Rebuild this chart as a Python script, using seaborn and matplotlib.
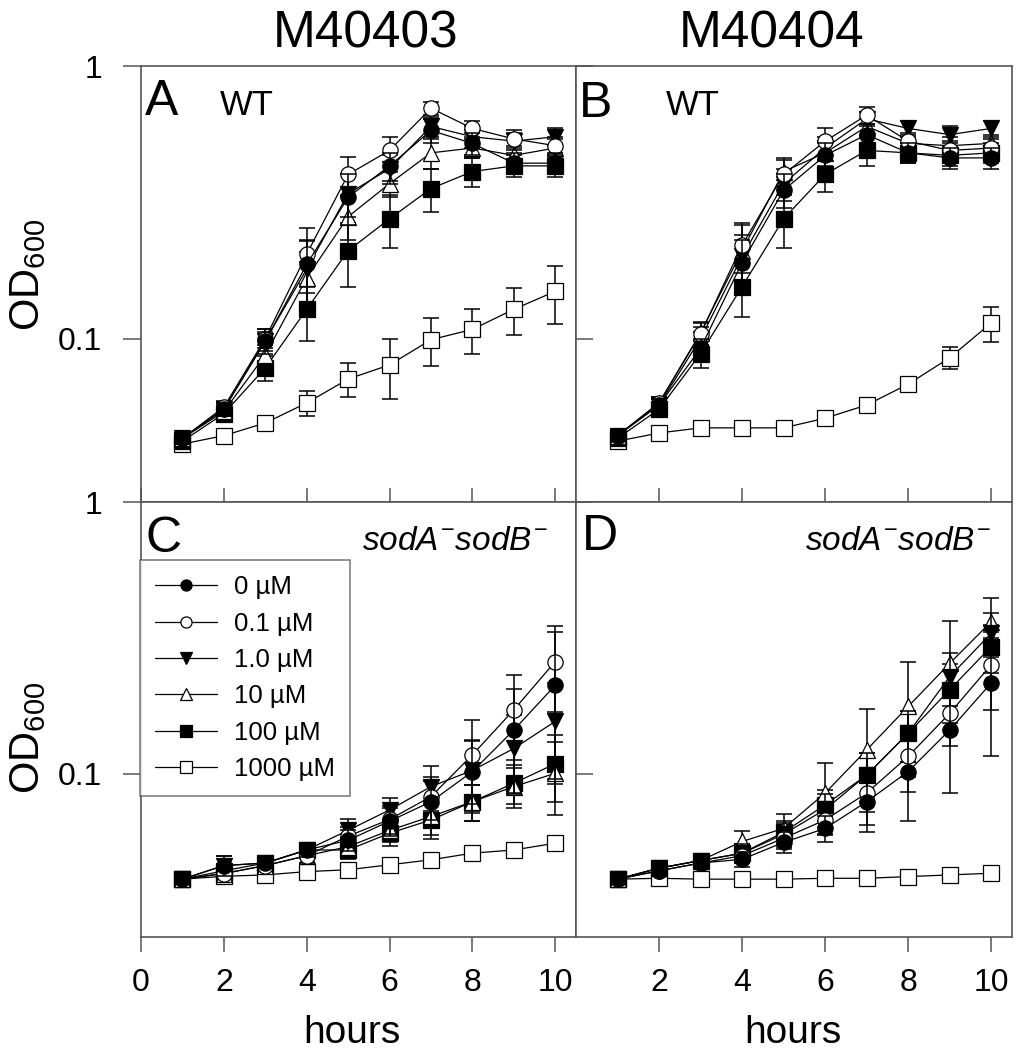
import matplotlib
matplotlib.use("Agg")
import matplotlib.pyplot as plt
import seaborn as sns
import numpy as np
from matplotlib.lines import Line2D
from matplotlib.ticker import FixedLocator, FixedFormatter, NullLocator

# ---------------- data ----------------
hours = [1, 2, 3, 4, 5, 6, 7, 8, 9, 10]
conc_labels = ["0 µM", "0.1 µM", "1.0 µM", "10 µM", "100 µM", "1000 µM"]

# Panel A: M40403 WT
A_0    = [0.043, 0.055, 0.098, 0.187, 0.33, 0.43, 0.58, 0.52, 0.44, 0.44]
A_01   = [0.043, 0.056, 0.100, 0.204, 0.40, 0.49, 0.70, 0.59, 0.54, 0.51]
A_1    = [0.043, 0.055, 0.098, 0.180, 0.34, 0.42, 0.60, 0.55, 0.53, 0.55]
A_10   = [0.043, 0.054, 0.087, 0.167, 0.28, 0.37, 0.48, 0.50, 0.47, 0.50]
A_100  = [0.042, 0.053, 0.078, 0.128, 0.21, 0.275, 0.355, 0.41, 0.43, 0.43]
A_1000 = [0.041, 0.044, 0.049, 0.058, 0.071, 0.080, 0.099, 0.108, 0.128, 0.149]
A_0_sd    = [0.002, 0.003, 0.008, 0.040, 0.07, 0.05, 0.06, 0.05, 0.04, 0.04]
A_01_sd   = [0.002, 0.003, 0.008, 0.050, 0.065, 0.06, 0.04, 0.04, 0.04, 0.04]
A_1_sd    = [0.002, 0.003, 0.010, 0.050, 0.06, 0.05, 0.05, 0.05, 0.04, 0.04]
A_10_sd   = [0.002, 0.003, 0.008, 0.040, 0.05, 0.04, 0.06, 0.04, 0.04, 0.04]
A_100_sd  = [0.002, 0.003, 0.008, 0.030, 0.055, 0.06, 0.065, 0.05, 0.04, 0.04]
A_1000_sd = [0.002, 0.002, 0.003, 0.006, 0.010, 0.020, 0.020, 0.020, 0.025, 0.036]

# Panel B: M40404 WT
B_0    = [0.044, 0.057, 0.092, 0.190, 0.35, 0.47, 0.56, 0.48, 0.46, 0.46]
B_01   = [0.044, 0.058, 0.104, 0.220, 0.40, 0.53, 0.66, 0.53, 0.49, 0.50]
B_1    = [0.044, 0.057, 0.100, 0.200, 0.37, 0.50, 0.64, 0.59, 0.56, 0.59]
B_10   = [0.044, 0.058, 0.105, 0.210, 0.41, 0.48, 0.60, 0.52, 0.51, 0.52]
B_100  = [0.043, 0.055, 0.088, 0.155, 0.275, 0.40, 0.49, 0.48, 0.47, 0.48]
B_1000 = [0.042, 0.045, 0.047, 0.047, 0.047, 0.051, 0.057, 0.068, 0.085, 0.114]
B_0_sd    = [0.002, 0.003, 0.008, 0.040, 0.05, 0.05, 0.05, 0.04, 0.04, 0.04]
B_01_sd   = [0.002, 0.003, 0.010, 0.046, 0.05, 0.06, 0.05, 0.04, 0.04, 0.04]
B_1_sd    = [0.002, 0.003, 0.010, 0.040, 0.05, 0.05, 0.04, 0.04, 0.04, 0.04]
B_10_sd   = [0.002, 0.003, 0.010, 0.050, 0.05, 0.05, 0.04, 0.04, 0.04, 0.04]
B_100_sd  = [0.002, 0.003, 0.010, 0.035, 0.06, 0.056, 0.06, 0.04, 0.04, 0.04]
B_1000_sd = [0.002, 0.002, 0.003, 0.003, 0.002, 0.002, 0.003, 0.004, 0.008, 0.017]

# Panel C: M40403 sodA-sodB-
C_0    = [0.041, 0.046, 0.047, 0.0525, 0.057, 0.067, 0.079, 0.102, 0.145, 0.212]
C_01   = [0.041, 0.043, 0.046, 0.050, 0.059, 0.068, 0.0825, 0.1175, 0.172, 0.259]
C_1    = [0.041, 0.046, 0.047, 0.0525, 0.062, 0.0737, 0.0898, 0.103, 0.124, 0.156]
C_10   = [0.041, 0.043, 0.046, 0.050, 0.054, 0.062, 0.0697, 0.079, 0.0898, 0.1005]
C_100  = [0.041, 0.044, 0.047, 0.0525, 0.0525, 0.0605, 0.0677, 0.079, 0.0924, 0.109]
C_1000 = [0.041, 0.042, 0.0425, 0.0437, 0.0444, 0.0463, 0.0483, 0.0511, 0.0525, 0.0556]
C_0_sd    = [0.001, 0.004, 0.002, 0.003, 0.005, 0.008, 0.015, 0.030, 0.060, 0.120]
C_01_sd   = [0.001, 0.002, 0.002, 0.003, 0.005, 0.008, 0.015, 0.040, 0.060, 0.090]
C_1_sd    = [0.001, 0.004, 0.002, 0.003, 0.006, 0.008, 0.017, 0.030, 0.040, 0.060]
C_10_sd   = [0.001, 0.002, 0.002, 0.003, 0.004, 0.006, 0.010, 0.012, 0.015, 0.030]
C_100_sd  = [0.001, 0.002, 0.002, 0.003, 0.004, 0.006, 0.010, 0.012, 0.015, 0.030]
C_1000_sd = [0.001, 0.001, 0.001, 0.001, 0.001, 0.001, 0.001, 0.001, 0.002, 0.002]

# Panel D: M40404 sodA-sodB-
D_0    = [0.041, 0.044, 0.047, 0.0485, 0.056, 0.063, 0.079, 0.102, 0.145, 0.216]
D_01   = [0.041, 0.044, 0.047, 0.050, 0.058, 0.0677, 0.085, 0.116, 0.167, 0.252]
D_1    = [0.041, 0.045, 0.048, 0.051, 0.060, 0.074, 0.099, 0.141, 0.228, 0.329]
D_10   = [0.041, 0.045, 0.048, 0.0564, 0.063, 0.085, 0.1225, 0.177, 0.255, 0.363]
D_100  = [0.041, 0.045, 0.048, 0.0511, 0.061, 0.0769, 0.099, 0.141, 0.204, 0.294]
D_1000 = [0.041, 0.0413, 0.041, 0.041, 0.041, 0.0413, 0.0413, 0.0419, 0.0425, 0.0431]
D_0_sd    = [0.001, 0.002, 0.002, 0.003, 0.005, 0.007, 0.018, 0.035, 0.060, 0.100]
D_01_sd   = [0.001, 0.002, 0.002, 0.003, 0.005, 0.008, 0.020, 0.030, 0.040, 0.080]
D_1_sd    = [0.001, 0.002, 0.002, 0.004, 0.006, 0.010, 0.020, 0.030, 0.050, 0.060]
D_10_sd   = [0.001, 0.002, 0.002, 0.005, 0.008, 0.025, 0.050, 0.080, 0.110, 0.080]
D_100_sd  = [0.001, 0.002, 0.002, 0.004, 0.006, 0.010, 0.020, 0.030, 0.050, 0.060]
D_1000_sd = [0.0, 0.0, 0.0, 0.0, 0.0, 0.0, 0.0, 0.0, 0.0, 0.0]

strain_titles = ["M40403", "M40404"]
panel_letters = ["A", "B", "C", "D"]
x_ticks_left = [0, 2, 4, 6, 8, 10]
x_ticks_right = [2, 4, 6, 8, 10]
y_ticks = [0.1, 1]
y_ticklabels = ["0.1", "1"]

# ---------------- style ----------------
sns.set_theme(style="white")
plt.rcParams["font.family"] = ["Liberation Sans", "DejaVu Sans"]
plt.rcParams["mathtext.fontset"] = "custom"
plt.rcParams["mathtext.rm"] = "Liberation Sans"
plt.rcParams["mathtext.it"] = "Liberation Sans:italic"
plt.rcParams["text.color"] = "black"
plt.rcParams["axes.labelcolor"] = "black"
plt.rcParams["xtick.color"] = "black"
plt.rcParams["ytick.color"] = "black"

markers = ["o", "o", "v", "^", "s", "s"]
faces = ["black", "white", "black", "white", "black", "white"]
msizes = [11, 11, 11, 11, 11.5, 11.5]
SPINE = "#555555"

W, H = 1017, 1050
fig = plt.figure(figsize=(W / 100, H / 100), dpi=100)


def fx(px):
    return px / W


def fy(py):
    return 1 - py / H


Lp, Mp, Rp = 141, 576, 1012
Tp, Cp, Bp = 66, 502, 937
axA = fig.add_axes([fx(Lp), fy(Cp), fx(Mp) - fx(Lp), fy(Tp) - fy(Cp)])
axB = fig.add_axes([fx(Mp), fy(Cp), fx(Rp) - fx(Mp), fy(Tp) - fy(Cp)])
axC = fig.add_axes([fx(Lp), fy(Bp), fx(Mp) - fx(Lp), fy(Cp) - fy(Bp)])
axD = fig.add_axes([fx(Mp), fy(Bp), fx(Rp) - fx(Mp), fy(Cp) - fy(Bp)])

panels = [
    (axA, [A_0, A_01, A_1, A_10, A_100, A_1000], [A_0_sd, A_01_sd, A_1_sd, A_10_sd, A_100_sd, A_1000_sd]),
    (axB, [B_0, B_01, B_1, B_10, B_100, B_1000], [B_0_sd, B_01_sd, B_1_sd, B_10_sd, B_100_sd, B_1000_sd]),
    (axC, [C_0, C_01, C_1, C_10, C_100, C_1000], [C_0_sd, C_01_sd, C_1_sd, C_10_sd, C_100_sd, C_1000_sd]),
    (axD, [D_0, D_01, D_1, D_10, D_100, D_1000], [D_0_sd, D_01_sd, D_1_sd, D_10_sd, D_100_sd, D_1000_sd]),
]

for ax, series, sds in panels:
    ax.set_yscale("log")
    ax.set_xlim(0, 10.5)
    ax.set_ylim(10 ** -1.6, 1.0)
    order = [5, 4, 3, 2, 1, 0]
    for k, i in enumerate(order):
        ax.errorbar(hours, series[i], yerr=sds[i], fmt="none", ecolor="black",
                    elinewidth=1.1, capsize=6, capthick=1.1, zorder=2 + k * 0.1)
        sns.lineplot(x=hours, y=series[i], ax=ax, color="black", linewidth=0.9,
                     marker=markers[i], markersize=msizes[i],
                     markerfacecolor=faces[i], markeredgecolor="black",
                     markeredgewidth=0.9, errorbar=None, legend=False,
                     zorder=2.05 + k * 0.1)
    ax.set_xlabel("")
    ax.set_ylabel("")
    for s in ax.spines.values():
        s.set_color(SPINE)
        s.set_linewidth(1.2)
    ax.yaxis.set_major_locator(FixedLocator(y_ticks))
    ax.yaxis.set_minor_locator(NullLocator())
    ax.yaxis.set_major_formatter(FixedFormatter(y_ticklabels))
    ax.set_facecolor("white")

# tick styling
for ax in (axA, axC):
    ax.tick_params(axis="y", direction="out", length=13, width=1.1, color=SPINE,
                   labelcolor="black", labelsize=23, pad=15, left=True, labelleft=True)
for ax in (axB, axD):
    ax.tick_params(axis="y", direction="in", length=12, width=1.1, color=SPINE,
                   left=True, labelleft=False)
for ax in (axA, axB):
    ax.tick_params(axis="x", direction="in", length=10, width=1.1, color=SPINE,
                   bottom=True, labelbottom=False)
for ax in (axC, axD):
    ax.tick_params(axis="x", direction="out", length=11, width=1.1, color=SPINE,
                   labelcolor="black", bottom=True, labelbottom=True, labelsize=23, pad=11)
axA.xaxis.set_major_locator(FixedLocator(x_ticks_left))
axC.xaxis.set_major_locator(FixedLocator(x_ticks_left))
axB.xaxis.set_major_locator(FixedLocator(x_ticks_right))
axD.xaxis.set_major_locator(FixedLocator(x_ticks_right))
axC.set_xticklabels([str(t) for t in x_ticks_left])
axD.set_xticklabels([str(t) for t in x_ticks_right])

# titles and annotations
fig.text(fx(366), fy(48), strain_titles[0], fontsize=37, ha="center", va="baseline")
fig.text(fx(772), fy(48), strain_titles[1], fontsize=37, ha="center", va="baseline")
fig.text(fx(145), fy(115), panel_letters[0], fontsize=36, ha="left", va="baseline")
fig.text(fx(579), fy(117), panel_letters[1], fontsize=36, ha="left", va="baseline")
fig.text(fx(146), fy(552), panel_letters[2], fontsize=36, ha="left", va="baseline")
fig.text(fx(582), fy(550), panel_letters[3], fontsize=36, ha="left", va="baseline")
fig.text(fx(220), fy(115), "WT", fontsize=25, ha="left", va="baseline")
fig.text(fx(666), fy(115), "WT", fontsize=25, ha="left", va="baseline")
geno = r"$\mathit{sodA}^{-}\mathit{sodB}^{-}$"
fig.text(fx(548), fy(550), geno, fontsize=24, ha="right", va="baseline")
fig.text(fx(991), fy(550), geno, fontsize=24, ha="right", va="baseline")
fig.text(fx(28), fy(275), r"OD$_{600}$", fontsize=30, rotation=90, ha="center", va="center")
fig.text(fx(28), fy(738), r"OD$_{600}$", fontsize=30, rotation=90, ha="center", va="center")
fig.text(fx(352), fy(1043), "hours", fontsize=28, ha="center", va="baseline")
fig.text(fx(793), fy(1043), "hours", fontsize=28, ha="center", va="baseline")

# legend
handles = [Line2D([], [], color="black", linewidth=0.9, marker=markers[i],
                  markersize=8, markerfacecolor=faces[i], markeredgecolor="black",
                  markeredgewidth=0.9)
           for i in range(6)]
leg = axC.legend(handles, conc_labels, loc="upper left",
                 bbox_to_anchor=(fx(140), fy(560)), bbox_transform=fig.transFigure,
                 borderaxespad=0, fontsize=18.5, frameon=True, fancybox=False,
                 edgecolor=SPINE, handlelength=2.4, handletextpad=0.65,
                 labelspacing=0.48, borderpad=0.6)
leg.get_frame().set_linewidth(1.1)
leg.set_zorder(10)
for t in leg.get_texts():
    t.set_color("black")

fig.savefig("out.png", dpi=100, facecolor="white")
